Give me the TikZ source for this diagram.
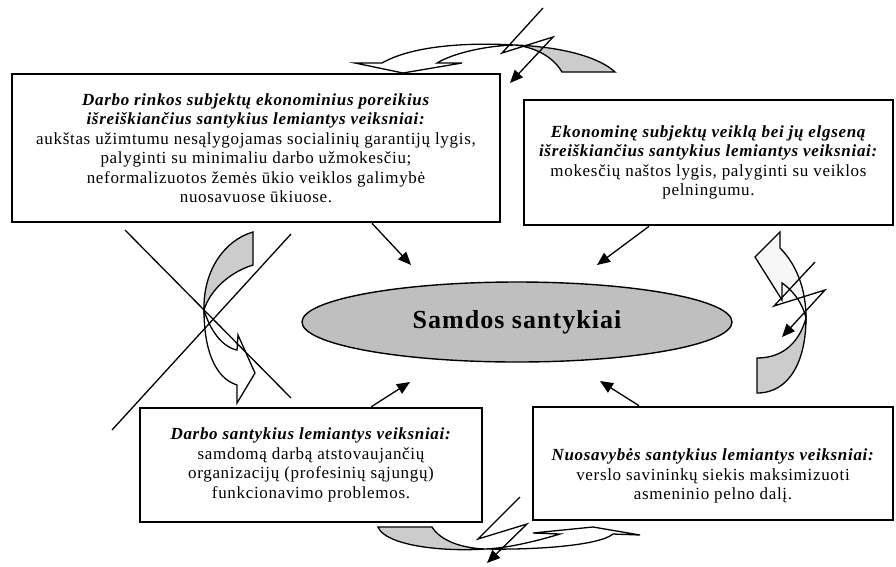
\documentclass[tikz,border=0pt]{standalone}
\usepackage{fontspec}
\setmainfont{Liberation Serif}[LetterSpace=4]
\usetikzlibrary{arrows.meta, shapes.geometric}

\definecolor{bandgrey}{gray}{0.8}

\begin{document}
\begin{tikzpicture}[x=1pt, y=-1pt,
  box/.style={draw, line width=2.6pt, align=center, inner sep=0pt, font=\fontsize{17}{19.5}\selectfont},
  core/.style={ellipse, draw, fill=black!25, line width=1.4pt, inner sep=0pt, minimum width=430pt, minimum height=80pt, font=\fontsize{26}{30}\selectfont\bfseries},
  band/.style={draw, line width=1.3pt, line join=miter},
  bolt/.style={line width=1.3pt},
  >={Triangle[length=13pt, width=11pt]}]
  \useasboundingbox (0,0) rectangle (896,566);

  % factor boxes
  \node[box, minimum width=488pt, minimum height=148pt] (tl) at (256,148)
    {\textbf{\textit{Darbo rinkos subjektų ekonominius poreikius}}\\
     \textbf{\textit{išreiškiančius santykius lemiantys veiksniai:}}\\
     aukštas užimtumu nesąlygojamas socialinių garantijų lygis,\\
     palyginti su minimaliu darbo užmokesčiu;\\
     neformalizuotos žemės ūkio veiklos galimybė\\
     nuosavuose ūkiuose.};
  \node[box, minimum width=369pt, minimum height=125pt] (tr) at (708.5,162.5)
    {\textbf{\textit{Ekonominę subjektų veiklą bei jų elgseną}}\\
     \textbf{\textit{išreiškiančius santykius lemiantys veiksniai:}}\\
     mokesčių naštos lygis, palyginti su veiklos\\
     pelningumu.};
  \node[box, minimum width=342pt, minimum height=114pt] (bl) at (311,465)
    {\textbf{\textit{Darbo santykius lemiantys veiksniai:}}\\
     samdomą darbą atstovaujančių\\
     organizacijų (profesinių sąjungų)\\
     funkcionavimo problemos.};
  \node[box, minimum width=360pt, minimum height=113pt] (br) at (713,463.5)
    {\mbox{}\\[18pt]
     \textbf{\textit{Nuosavybės santykius lemiantys veiksniai:}}\\
     verslo savininkų siekis maksimizuoti\\
     asmeninio pelno dalį.};

  \node[core] (core) at (517,322) {Samdos santykiai};

  % arrows into the centre
  \coordinate (t1) at (411,265);
  \coordinate (t2) at (597,265);
  \coordinate (t3) at (410,382);
  \coordinate (t4) at (600,381);
  \draw[->, line width=1.3pt] (tl.-33.7) -- (t1);
  \draw[->, line width=1.3pt] (tr.-133.1) -- (t2);
  \draw[->, line width=1.3pt] (bl.44) -- (t3);
  \draw[->, line width=1.3pt] (br.142.3) -- (t4);

  % top curved arrow
  \filldraw[band, fill=white] (382,63) -- (355,63) -- (403,73) -- (462,63) -- (437,63)
    .. controls (450,55) and (480,46) .. (515,45)
    .. controls (460,42) and (410,47) .. (382,63) -- cycle;
  \filldraw[band, fill=bandgrey] (515,45) .. controls (565,47) and (600,58) .. (615,72)
    -- (562,72) .. controls (555,60) and (540,48) .. (515,45) -- cycle;
  \draw[bolt, ->] (543,8) -- (502,53) -- (553,37) -- (510,83);

  % right curved arrow
  \filldraw[band, fill=black!3] (780,248) -- (780,232) -- (755,257) -- (782,300) -- (782,283)
    .. controls (795,292) and (803,305) .. (806,318)
    .. controls (806,290) and (797,265) .. (780,248) -- cycle;
  \filldraw[band, fill=bandgrey] (806,318) .. controls (806,360) and (790,393) .. (757,393)
    -- (757,358) .. controls (785,358) and (800,340) .. (806,318) -- cycle;
  \draw[bolt, ->] (815,262) -- (774,306) -- (825,290) -- (782,337);

  % bottom curved arrow
  \filldraw[band, fill=bandgrey] (378,527) -- (432,527)
    .. controls (440,540) and (460,548) .. (485,549)
    .. controls (440,552) and (385,545) .. (378,527) -- cycle;
  \filldraw[band, fill=white] (485,549) .. controls (540,550) and (600,545) .. (613,534)
    -- (640,535) -- (593,527) -- (533,533) -- (560,534)
    .. controls (540,540) and (510,548) .. (485,549) -- cycle;
  \draw[bolt, ->] (520,497) -- (478,539) -- (527,524) -- (487,563);

  % left curved arrow, crossed out
  \filldraw[band, fill=bandgrey] (253,232) -- (253,265)
    .. controls (230,272) and (210,290) .. (204,310)
    .. controls (203,270) and (225,240) .. (253,232) -- cycle;
  \filldraw[band, fill=white] (204,310) .. controls (204,350) and (215,378) .. (237,385)
    -- (237,403) -- (255,373) -- (238,335) -- (237,350)
    .. controls (222,347) and (210,330) .. (204,310) -- cycle;
  \draw[bolt] (125,230) -- (291,398);
  \draw[bolt] (291,234) -- (112,430);
\end{tikzpicture}
\end{document}
